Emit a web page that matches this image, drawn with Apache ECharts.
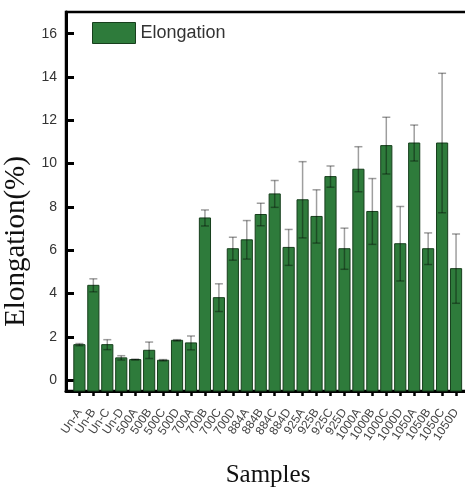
<!DOCTYPE html>
<html>
<head>
<meta charset="utf-8">
<script src="https://cdn.jsdelivr.net/npm/echarts@6/dist/echarts.min.js"></script>
<style>
    html, body { margin: 0; padding: 0; background: #fff; }
    #chart { width: 465px; height: 489px; }
</style>
</head>
<body>
<div id="chart"></div>
<script>
// samples on the x axis
const categories = ['Un-A', 'Un-B', 'Un-C', 'Un-D', '500A', '500B', '500C', '500D',
    '700A', '700B', '700C', '700D', '884A', '884B', '884C', '884D',
    '925A', '925B', '925C', '925D', '1000A', '1000B', '1000C', '1000D',
    '1050A', '1050B', '1050C', '1050D'];
// mean elongation (%) and its error
const elongation = [1.64, 4.38, 1.64, 1.03, 0.95, 1.38, 0.92, 1.84,
    1.72, 7.49, 3.81, 6.07, 6.48, 7.65, 8.6, 6.13,
    8.33, 7.56, 9.4, 6.07, 9.74, 7.79, 10.83, 6.3,
    10.95, 6.07, 10.95, 5.15];
const errors = [0.05, 0.3, 0.23, 0.1, 0.02, 0.38, 0.03, 0.03,
    0.32, 0.37, 0.64, 0.53, 0.89, 0.52, 0.62, 0.83,
    1.76, 1.23, 0.49, 0.95, 1.04, 1.52, 1.31, 1.72,
    0.83, 0.73, 3.22, 1.6];
const yTicks = [0, 2, 4, 6, 8, 10, 12, 14, 16];

const Y_MIN = -0.5;
const X_MIN = -0.96;
const X_MAX = 28;
const BAR_FILL = '#2e7b3b';
const BAR_EDGE = '#173f1d';

// ticks at every sample; labels split over two axes so echarts keeps them all
const tickPos = categories.map((c, i) => i);
const evenPos = tickPos.filter(i => i % 2 === 0);
const oddPos = tickPos.filter(i => i % 2 === 1);

let myChart = echarts.init(document.getElementById('chart'));

function renderBar(params, api) {
    let x = api.value(0);
    let v = api.value(1);
    let e = api.value(2);
    let top = api.coord([x, v]);
    let base = api.coord([x, Y_MIN]);
    let hi = api.coord([x, v + e]);
    let lo = api.coord([x, v - e]);
    let w = api.size([1, 0])[0] * 0.8;
    let errStyle = { stroke: 'rgba(0,0,0,0.38)', lineWidth: 1.5 };
    return {
        type: 'group',
        children: [
            {
                type: 'rect',
                shape: { x: top[0] - w / 2, y: top[1], width: w, height: base[1] - top[1] },
                style: { fill: BAR_FILL, stroke: BAR_EDGE, lineWidth: 1 }
            },
            { type: 'line', shape: { x1: hi[0], y1: hi[1], x2: lo[0], y2: lo[1] }, style: errStyle },
            { type: 'line', shape: { x1: hi[0] - 4, y1: hi[1], x2: hi[0] + 4, y2: hi[1] }, style: errStyle },
            { type: 'line', shape: { x1: lo[0] - 4, y1: lo[1], x2: lo[0] + 4, y2: lo[1] }, style: errStyle }
        ]
    };
}

function sampleLabel(values) {
    return {
        customValues: values,
        formatter: (v) => categories[v],
        showMinLabel: true,
        showMaxLabel: true,
        rotate: 56,
        margin: 19,
        fontFamily: 'Liberation Sans',
        fontSize: 12,
        color: '#444'
    };
}

let option = {
    animation: false,
    legend: {
        left: 87,
        top: 17,
        icon: 'rect',
        itemWidth: 43,
        itemHeight: 21,
        itemGap: 6,
        textStyle: { fontFamily: 'Liberation Sans', fontSize: 18, color: '#333' },
        data: [{
            name: 'Elongation',
            itemStyle: { color: BAR_FILL, borderColor: BAR_EDGE, borderWidth: 1 }
        }]
    },
    grid: {
        left: 66,
        top: 12,
        width: 404,
        height: 379,
        outerBoundsMode: 'none',
        show: true,
        borderColor: '#000',
        borderWidth: 2.5
    },
    xAxis: [
        {
            type: 'value',
            position: 'bottom',
            min: X_MIN,
            max: X_MAX,
            name: 'Samples',
            nameLocation: 'middle',
            nameGap: 72,
            nameTextStyle: { fontFamily: 'Liberation Serif', fontSize: 25, color: '#111' },
            axisLine: { onZero: false, lineStyle: { color: '#000', width: 3 } },
            axisTick: {
                show: true,
                customValues: tickPos,
                length: 5,
                lineStyle: { color: '#000', width: 2.5 }
            },
            axisLabel: sampleLabel(evenPos),
            splitLine: { show: false }
        },
        {
            type: 'value',
            position: 'bottom',
            min: X_MIN,
            max: X_MAX,
            axisLine: { show: false },
            axisTick: { show: false },
            axisLabel: sampleLabel(oddPos),
            splitLine: { show: false }
        }
    ],
    yAxis: {
        type: 'value',
        min: Y_MIN,
        max: 17,
        name: 'Elongation(%)',
        nameLocation: 'middle',
        nameGap: 30,
        nameTextStyle: {
            fontFamily: 'Liberation Serif',
            fontSize: 29,
            color: '#111',
            padding: [0, 80, 0, 0]
        },
        axisLine: { show: true, onZero: false, lineStyle: { color: '#000', width: 3 } },
        axisTick: {
            show: true,
            inside: true,
            customValues: yTicks,
            length: 8,
            lineStyle: { color: '#000', width: 3 }
        },
        axisLabel: {
            customValues: yTicks,
            margin: 9,
            fontFamily: 'Liberation Sans',
            fontSize: 14,
            color: '#333'
        },
        splitLine: { show: false }
    },
    series: [{
        name: 'Elongation',
        type: 'custom',
        xAxisIndex: 0,
        renderItem: renderBar,
        itemStyle: { color: BAR_FILL },
        encode: { x: 0, y: 1 },
        data: categories.map((c, i) => [i, elongation[i], errors[i]])
    }]
};
myChart.setOption(option, true);
</script>
</body>
</html>
